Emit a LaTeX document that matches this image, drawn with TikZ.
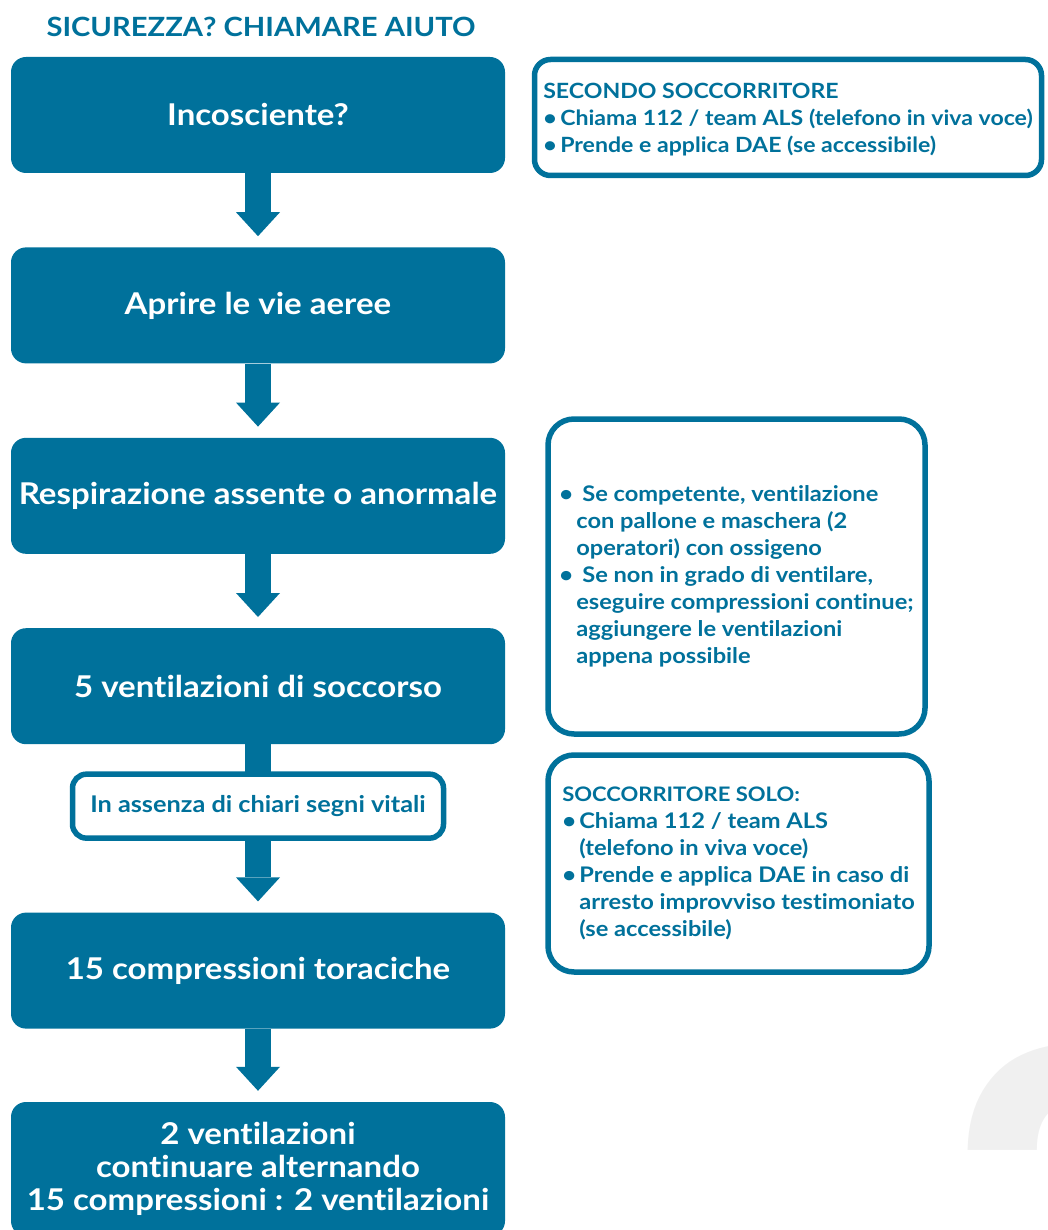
\documentclass[tikz,border=0pt]{standalone}
\usepackage{fontspec}
\setmainfont{Lato}[FakeStretch=1.1, Ligatures=NoCommon]
\newfontfamily\cifra{Poppins}
\usepackage{xcolor}
\usetikzlibrary{arrows.meta,positioning}
\definecolor{erc}{RGB}{0,113,155}
\definecolor{filigrana}{RGB}{240,240,240}
\newcommand{\punto}{\makebox[17pt][l]{•}}
\newcommand{\rientro}{\hspace*{17pt}}
\tikzset{
  mainbox/.style={rounded corners=15pt, fill=erc, text=white, minimum width=494pt,
    minimum height=116pt, inner sep=2pt, align=center,
    font=\fontsize{30}{36}\selectfont\bfseries},
  notebox/.style={rounded corners=26pt, draw=erc, line width=5.5pt, fill=white, text=erc,
    align=left, inner sep=4pt, font=\fontsize{21.5}{27}\selectfont\bfseries},
  flow/.style={erc, line width=26pt, -{Triangle[width=44pt,length=24pt,line width=0pt]},
    shorten >=11pt},
  shaft/.style={erc, line width=26pt},
}
\begin{document}
\begin{tikzpicture}[x=1pt,y=-1pt]
\useasboundingbox (0,0) rectangle (1048,1230);
% page number in the background
\begin{scope}
\clip (0,0) rectangle (1048,1230);
\node[font=\cifra\fontsize{420}{420}\selectfont\bfseries, text=filigrana, anchor=base west,
  inner sep=0pt] (pagina) at (952,1357) {2};
\end{scope}

\node[text=erc, font=\fontsize{26.5}{30}\selectfont\bfseries] (titolo) at (261,27)
  {SICUREZZA? CHIAMARE AIUTO};

% main column
\node[mainbox] (inco) at (258,115) {Incosciente?};
\node[mainbox, below=74pt of inco] (vie) {Aprire le vie aeree};
\node[mainbox, below=74pt of vie] (resp) {Respirazione assente o anormale};
\node[mainbox, below=74pt of resp] (vent) {5 ventilazioni di soccorso};
\node[mainbox, below=168pt of vent] (comp) {15 compressioni toraciche};
\node[mainbox, below=73pt of comp, minimum height=134pt,
  font=\fontsize{30}{33}\selectfont\bfseries] (cicli)
  {2 ventilazioni\\continuare alternando\\15 compressioni : 2 ventilazioni};

\draw[flow] (inco) -- (vie);
\draw[flow] (vie) -- (resp);
\draw[flow] (resp) -- (vent);
\draw[shaft] (vent.south) -- ++(0,30);
\node[notebox, rounded corners=14pt, minimum width=371pt, minimum height=64pt,
  font=\fontsize{23}{25}\selectfont\bfseries, below=27pt of vent] (segni)
  {In assenza di chiari segni vitali};
\draw[flow] (segni) -- (comp);
\draw[flow] (comp) -- (cicli);

% side notes
\node[notebox, rounded corners=16pt, minimum width=507pt, minimum height=116pt,
  font=\fontsize{21}{27}\selectfont\bfseries] (secondo) at (788,117.5)
  {\rule{0pt}{20pt}SECONDO SOCCORRITORE\\
   \punto Chiama 112 / team ALS (telefono in viva voce)\\
   \punto Prende e applica DAE (se accessibile)};
\node[notebox, minimum width=377pt, minimum height=315pt] (pallone) at (736.5,576.5)
  {\punto\hspace{6pt}Se competente, ventilazione\\
   \rientro con pallone e maschera (2\\
   \rientro operatori) con ossigeno\\
   \punto\hspace{6pt}Se non in grado di ventilare,\\
   \rientro eseguire compressioni continue;\\
   \rientro aggiungere le ventilazioni\\
   \rientro appena possibile};
\node[notebox, minimum width=381pt, minimum height=217pt] (solo) at (738.5,863.5)
  {{\fontsize{20}{27}\selectfont SOCCORRITORE SOLO:}\\
   \punto Chiama 112 / team ALS\\
   \rientro (telefono in viva voce)\\
   \punto Prende e applica DAE in caso di\\
   \rientro arresto improvviso testimoniato\\
   \rientro (se accessibile)};
\end{tikzpicture}
\end{document}
